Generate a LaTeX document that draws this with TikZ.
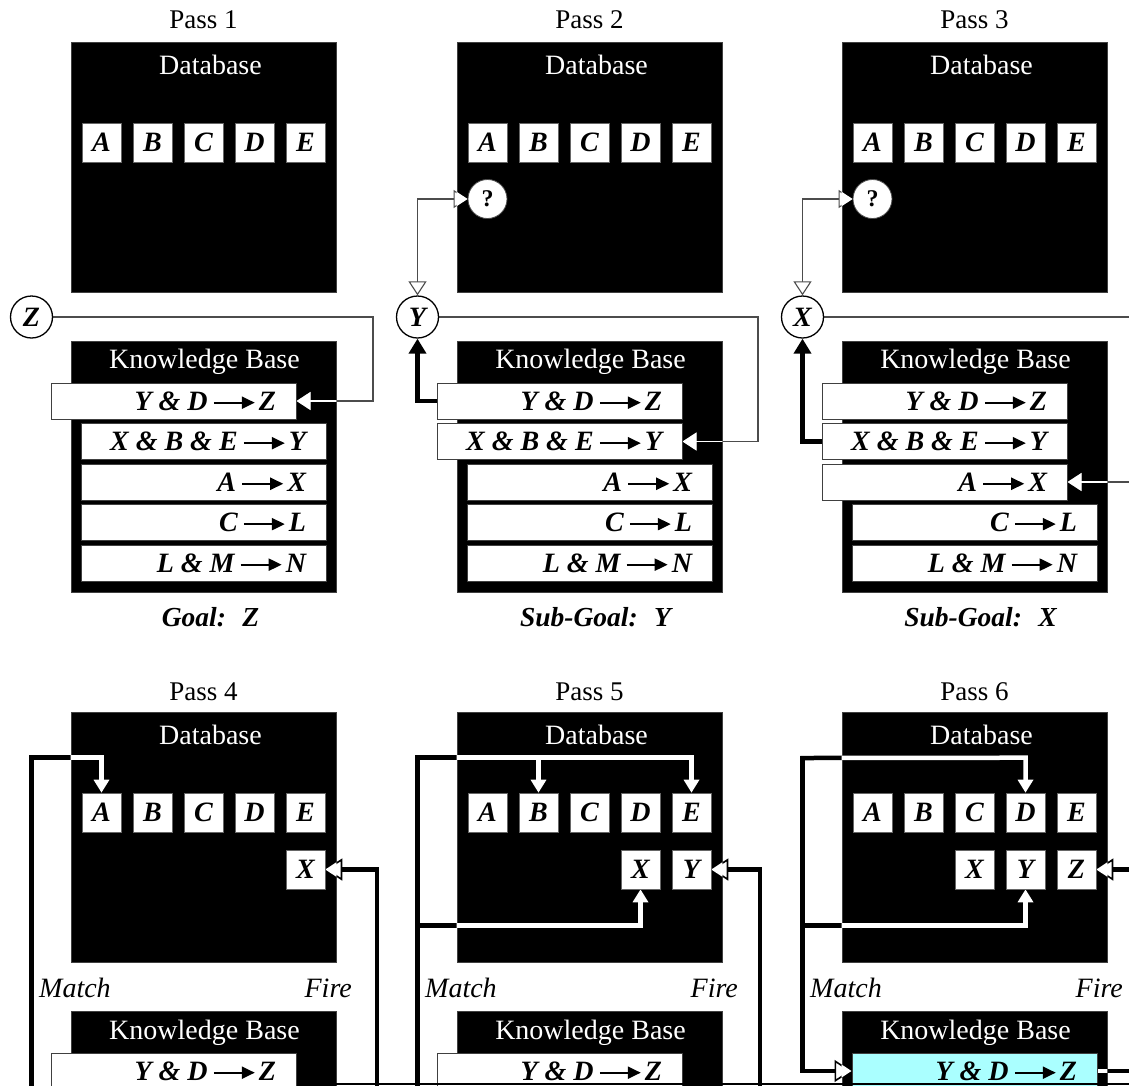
\documentclass[tikz,border=0pt]{standalone}
\usepackage{fontspec}
\setmainfont{Liberation Serif}
\usetikzlibrary{arrows.meta,calc}
\pgfdeclarelayer{bg}
\pgfdeclarelayer{lines}
\pgfsetlayers{bg,lines,main}
\definecolor{hotc}{RGB}{170,255,255}
\newcommand\rarr{\hspace{5pt}\tikz[x=1pt,y=1pt,baseline=0pt]{\draw[line width=2.2pt,-{Triangle[length=13pt,width=12pt]}] (0,7.5) -- (41,7.5);}\hspace{3pt}}
\newcommand\rl[1]{\makebox[205pt][r]{#1}}
\tikzset{
  blkbox/.style={rectangle, fill=black, draw=black!75, line width=0.8pt, minimum width=265pt, inner sep=0pt},
  dbstyle/.style={blkbox, minimum height=250pt},
  kbstyle/.style={blkbox, minimum height=251pt},
  hdr/.style={font=\fontsize{28}{30}\selectfont, text=white, inner sep=0pt},
  passlbl/.style={font=\fontsize{27}{30}\selectfont, inner sep=0pt},
  goal/.style={font=\fontsize{27.5}{30}\selectfont\bfseries\itshape, inner sep=0pt},
  side/.style={font=\fontsize{28}{30}\selectfont\itshape, inner sep=0pt},
  letter/.style={rectangle, fill=white, draw=black!60, line width=0.6pt, minimum width=39pt, minimum height=39pt, inner sep=0pt, font=\fontsize{28}{30}\selectfont\bfseries\itshape},
  rulebox/.style={rectangle, fill=white, draw=black!75, line width=1pt, minimum height=36pt, inner xsep=20pt, inner ysep=0pt, font=\fontsize{28}{30}\selectfont\bfseries\itshape},
  hot/.style={rulebox, fill=hotc},
  goalc/.style={circle, fill=white, draw=black, line width=1.3pt, minimum size=42pt, inner sep=0pt, font=\fontsize{28}{30}\selectfont\bfseries\itshape},
  qc/.style={circle, fill=white, draw=black!70, line width=0.8pt, minimum size=39pt, inner sep=0pt, font=\fontsize{24}{28}\selectfont\bfseries},
  thinc/.style={line width=1.3pt},
  thickc/.style={line width=4.5pt, line cap=rect},
  openA/.tip={Triangle[length=14pt,width=18pt,fill=white,line width=1.1pt]},
  solidA/.tip={Triangle[length=15pt,width=17pt]},
  openB/.tip={Triangle[length=17pt,width=22pt,fill=white,line width=1.6pt]},
  solidB/.tip={Triangle[length=13pt,width=15pt]},
}
\newcommand\conns[2]{%
 \draw[thinc,#1,-{openA}] (Z1.east) -- (t1) |- (r1a.east);
 \draw[thinc,#1,{openA}-{openA}] (Y2.north) |- (q2.west);
 \draw[thinc,#1,-{openA}] (Y2.east) -- (t2) |- (r2b.east);
 \draw[thickc,#2,-{solidA}] (r2a.west) -| (Y2.south);
 \draw[thinc,#1,{openA}-{openA}] (X3.north) |- (q3.west);
 \draw[thinc,#1,-{openA}] (X3.east) -- (t3) |- (r3c.east);
 \draw[thickc,#2,-{solidA}] (r3b.west) -| (X3.south);
 \draw[thickc,#2,-{solidB}] (m4) |- (a4hi) -- (A4.north);
 \draw[thickc,#2,-{openB}] (f4) |- (X4.east);
 \draw[thickc,#2,-{solidB}] (m5) |- (e5hi) -- (E5.north);
 \draw[thickc,#2,-{solidB}] (b5hi) -- (B5.north);
 \draw[thickc,#2,-{solidB}] (m5 |- x5lo) -- (x5lo) -- (X5.south);
 \draw[thickc,#2,-{openB}] (f5) |- (Y5.east);
 \draw[thickc,#2,-{openB}] (m6) |- (r6a.west);
 \draw[thickc,#2,-{solidB}] (m6) -- (d6hi) -- (D6.north);
 \draw[thickc,#2,-{solidB}] (m6 |- y6lo) -- (y6lo) -- (Y6.south);
 \draw[thickc,#2,-{openB}] (r6a.east) -- (f6 |- r6a.east) -- (f6 |- Z6.east) -- (Z6.east);
}
\begin{document}
\begin{tikzpicture}[x=1pt,y=-1pt]
\useasboundingbox (0,0) rectangle (1129,1085);
\clip (0,0) rectangle (1129,1085);
% ---------- black boxes ----------
\begin{pgfonlayer}{bg}
\fill[white] (0,0) rectangle (1129,1085);
\node[dbstyle] (db1) at (203.5,167) {};
\node[dbstyle] (db2) at (589.5,167) {};
\node[dbstyle] (db3) at (974.5,167) {};
\node[kbstyle] (kb1) at (203.5,466.5) {};
\node[kbstyle] (kb2) at (589.5,466.5) {};
\node[kbstyle] (kb3) at (974.5,466.5) {};
\node[dbstyle] (db4) at (203.5,837) {};
\node[dbstyle] (db5) at (589.5,837) {};
\node[dbstyle] (db6) at (974.5,837) {};
\node[kbstyle] (kb4) at (203.5,1136.5) {};
\node[kbstyle] (kb5) at (589.5,1136.5) {};
\node[kbstyle] (kb6) at (974.5,1136.5) {};
\end{pgfonlayer}
% ---------- Pass 1 ----------
\node[passlbl] (pl1) at (203.5,20) {Pass 1};
\node[hdr] (dh1) at (210.5,65) {Database};
\node[letter] (A1) at (101.5,142.5) {A};
\node[letter] (B1) at (152.5,142.5) {B};
\node[letter] (C1) at (203.5,142.5) {C};
\node[letter] (D1) at (254.5,142.5) {D};
\node[letter] (E1) at (305.5,142.5) {E};
\node[goalc] (Z1) at (31.5,317) {Z};
\node[hdr] (kh1) at (204.5,362) {Knowledge Base};
\node[rulebox] (r1a) at (173.5,401) {\rl{Y \& D\rarr Z}};
\node[rulebox] (r1b) at (203.5,441.5) {\rl{X \& B \& E\rarr Y}};
\node[rulebox] (r1c) at (203.5,482) {\rl{A\rarr X}};
\node[rulebox] (r1d) at (203.5,522.5) {\rl{C\rarr L}};
\node[rulebox] (r1e) at (203.5,563) {\rl{L \& M\rarr N}};
\node[goal] (g1) at (210.5,617) {Goal:\hspace{0.6em}Z};
% ---------- Pass 2 ----------
\node[passlbl] (pl2) at (589.5,20) {Pass 2};
\node[hdr] (dh2) at (596.5,65) {Database};
\node[letter] (A2) at (487.5,142.5) {A};
\node[letter] (B2) at (538.5,142.5) {B};
\node[letter] (C2) at (589.5,142.5) {C};
\node[letter] (D2) at (640.5,142.5) {D};
\node[letter] (E2) at (691.5,142.5) {E};
\node[qc] (q2) at (487.5,199) {?};
\node[goalc] (Y2) at (417.5,317) {Y};
\node[hdr] (kh2) at (590.5,362) {Knowledge Base};
\node[rulebox] (r2a) at (559.5,401) {\rl{Y \& D\rarr Z}};
\node[rulebox] (r2b) at (559.5,441.5) {\rl{X \& B \& E\rarr Y}};
\node[rulebox] (r2c) at (589.5,482) {\rl{A\rarr X}};
\node[rulebox] (r2d) at (589.5,522.5) {\rl{C\rarr L}};
\node[rulebox] (r2e) at (589.5,563) {\rl{L \& M\rarr N}};
\node[goal] (g2) at (595.5,617) {Sub-Goal:\hspace{0.6em}Y};
% ---------- Pass 3 ----------
\node[passlbl] (pl3) at (974.5,20) {Pass 3};
\node[hdr] (dh3) at (981.5,65) {Database};
\node[letter] (A3) at (872.5,142.5) {A};
\node[letter] (B3) at (923.5,142.5) {B};
\node[letter] (C3) at (974.5,142.5) {C};
\node[letter] (D3) at (1025.5,142.5) {D};
\node[letter] (E3) at (1076.5,142.5) {E};
\node[qc] (q3) at (872.5,199) {?};
\node[goalc] (X3) at (802.5,317) {X};
\node[hdr] (kh3) at (975.5,362) {Knowledge Base};
\node[rulebox] (r3a) at (944.5,401) {\rl{Y \& D\rarr Z}};
\node[rulebox] (r3b) at (944.5,441.5) {\rl{X \& B \& E\rarr Y}};
\node[rulebox] (r3c) at (944.5,482) {\rl{A\rarr X}};
\node[rulebox] (r3d) at (974.5,522.5) {\rl{C\rarr L}};
\node[rulebox] (r3e) at (974.5,563) {\rl{L \& M\rarr N}};
\node[goal] (g3) at (980.5,617) {Sub-Goal:\hspace{0.6em}X};
% ---------- Pass 4 ----------
\node[passlbl] (pl4) at (203.5,692) {Pass 4};
\node[hdr] (dh4) at (210.5,735) {Database};
\node[letter] (A4) at (101.5,812.5) {A};
\node[letter] (B4) at (152.5,812.5) {B};
\node[letter] (C4) at (203.5,812.5) {C};
\node[letter] (D4) at (254.5,812.5) {D};
\node[letter] (E4) at (305.5,812.5) {E};
\node[letter] (X4) at (305.5,869.5) {X};
\node[side, anchor=west] (ma4) at (39,988) {Match};
\node[side, anchor=east] (fi4) at (352,988) {Fire};
\node[hdr] (kh4) at (204.5,1033) {Knowledge Base};
\node[rulebox] (r4a) at (173.5,1071) {\rl{Y \& D\rarr Z}};
% ---------- Pass 5 ----------
\node[passlbl] (pl5) at (589.5,692) {Pass 5};
\node[hdr] (dh5) at (596.5,735) {Database};
\node[letter] (A5) at (487.5,812.5) {A};
\node[letter] (B5) at (538.5,812.5) {B};
\node[letter] (C5) at (589.5,812.5) {C};
\node[letter] (D5) at (640.5,812.5) {D};
\node[letter] (E5) at (691.5,812.5) {E};
\node[letter] (X5) at (640.5,869.5) {X};
\node[letter] (Y5) at (691.5,869.5) {Y};
\node[side, anchor=west] (ma5) at (425,988) {Match};
\node[side, anchor=east] (fi5) at (738,988) {Fire};
\node[hdr] (kh5) at (590.5,1033) {Knowledge Base};
\node[rulebox] (r5a) at (559.5,1071) {\rl{Y \& D\rarr Z}};
% ---------- Pass 6 ----------
\node[passlbl] (pl6) at (974.5,692) {Pass 6};
\node[hdr] (dh6) at (981.5,735) {Database};
\node[letter] (A6) at (872.5,812.5) {A};
\node[letter] (B6) at (923.5,812.5) {B};
\node[letter] (C6) at (974.5,812.5) {C};
\node[letter] (D6) at (1025.5,812.5) {D};
\node[letter] (E6) at (1076.5,812.5) {E};
\node[letter] (X6) at (974.5,869.5) {X};
\node[letter] (Y6) at (1025.5,869.5) {Y};
\node[letter] (Z6) at (1076.5,869.5) {Z};
\node[side, anchor=west] (ma6) at (810,988) {Match};
\node[side, anchor=east] (fi6) at (1123,988) {Fire};
\node[hdr] (kh6) at (975.5,1033) {Knowledge Base};
\node[hot] (r6a) at (974.5,1071) {\rl{Y \& D\rarr Z}};
% ---------- coordinates ----------
\coordinate (t1) at (373,317);
\coordinate (t2) at (758,317);
\coordinate (t3) at (1146,317);
\coordinate (m4) at (31.5,1100);
\coordinate (f4) at (377,1100);
\coordinate (m5) at (417.5,1100);
\coordinate (f5) at (760,1100);
\coordinate (m6) at (802.5,758);
\coordinate (f6) at (1146,0);
\coordinate (a4hi) at ([yshift=35pt]A4.north);
\coordinate (b5hi) at ([yshift=35pt]B5.north);
\coordinate (e5hi) at ([yshift=35pt]E5.north);
\coordinate (x5lo) at ([yshift=-36pt]X5.south);
\coordinate (d6hi) at ([yshift=35pt]D6.north);
\coordinate (y6lo) at ([yshift=-36pt]Y6.south);
\coordinate (bl1) at (298,1084);
\coordinate (bl2) at (1135,1084);
% ---------- connectors ----------
\begin{pgfonlayer}{lines}
\conns{black!70}{black}
\begin{scope}
\clip (db1.north west) rectangle (db1.south east)
      (db2.north west) rectangle (db2.south east)
      (db3.north west) rectangle (db3.south east)
      (db4.north west) rectangle (db4.south east)
      (db5.north west) rectangle (db5.south east)
      (db6.north west) rectangle (db6.south east)
      (kb1.north west) rectangle (kb1.south east)
      (kb2.north west) rectangle (kb2.south east)
      (kb3.north west) rectangle (kb3.south east)
      (kb4.north west) rectangle (kb4.south east)
      (kb5.north west) rectangle (kb5.south east)
      (kb6.north west) rectangle (kb6.south east);
\conns{white}{white}
\end{scope}
\end{pgfonlayer}
\draw[line width=2pt] (bl1) -- (bl2);
\end{tikzpicture}
\end{document}
